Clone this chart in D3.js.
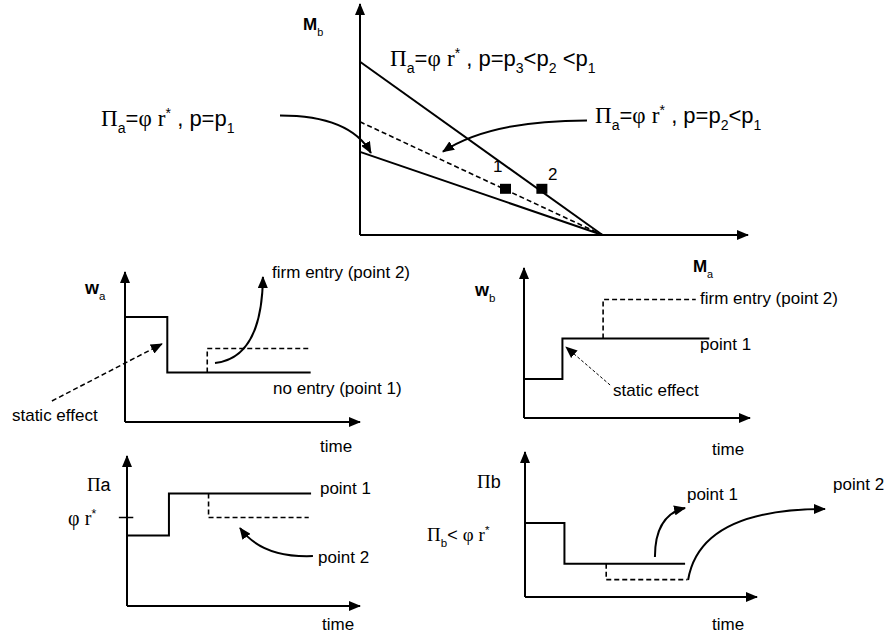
<!DOCTYPE html>
<html>
<head>
<meta charset="utf-8">
<script src="https://cdn.jsdelivr.net/npm/d3@7"></script>
<style>
  body { margin: 0; background: #fff; }
  text { white-space: pre; fill: #000; }
</style>
</head>
<body>
<svg id="fig" width="889" height="635"></svg>
<script>
// ---------- data ----------
// top panel: iso-profit lines for firm a in (Ma, Mb) space
var isoNames = ['p3', 'p2', 'p1'];
var isoMbIntercept = [7.5, 4.9, 3.6];
var isoMaIntercept = [10, 10, 10];
var isoDashed = [false, true, false];
var pointLabels = ['1', '2'];
var pointMa = [6.0, 7.5];
var pointMb = [2.0, 2.0];

// wage of a over time
var waSolidT = [0, 1.8, 1.8, 7.9];
var waSolidV = [7.0, 7.0, 3.3, 3.3];
var waDashT = [3.5, 3.5, 7.8];
var waDashV = [3.3, 4.9, 4.9];

// wage of b over time
var wbSolidT = [0, 1.7, 1.7, 8.2];
var wbSolidV = [2.6, 2.6, 5.3, 5.3];
var wbDashT = [3.5, 3.5, 7.6];
var wbDashV = [5.3, 7.9, 7.9];

// profit of a over time
var paSolidT = [0, 1.8, 1.8, 7.9];
var paSolidV = [4.7, 4.7, 7.5, 7.5];
var paDashT = [3.5, 3.5, 7.8];
var paDashV = [7.5, 5.9, 5.9];
var paTarget = 5.9;   // phi r*

// profit of b over time
var pbSolidT = [0, 1.7, 1.7, 6.9];
var pbSolidV = [5.1, 5.1, 2.3, 2.3];
var pbDashT = [3.5, 3.5, 7.0];
var pbDashV = [2.3, 1.2, 1.2];

// ---------- setup ----------
var SANS = 'Liberation Sans, Arial, sans-serif';
var SERIF = 'Liberation Serif, Times New Roman, serif';
var svg = d3.select('#fig');
svg.append('rect').attr('width', 889).attr('height', 635).attr('fill', '#fff');

var defs = svg.append('defs');
defs.append('marker')
  .attr('id', 'head')
  .attr('viewBox', '0 0 12 10')
  .attr('refX', 11).attr('refY', 5)
  .attr('markerUnits', 'userSpaceOnUse')
  .attr('markerWidth', 12).attr('markerHeight', 10)
  .attr('orient', 'auto')
  .append('path').attr('d', 'M0,0 L12,5 L0,10 Z').attr('fill', '#000');

// rich text: parts are [kind, string]; kind = sans | serif | sub | sup | bold
function rich(x, y, parts, size) {
  var t = svg.append('text').attr('x', x).attr('y', y)
    .attr('font-size', size).attr('font-family', SANS);
  var shift = 0;
  parts.forEach(function(p) {
    var kind = p[0];
    var target = kind === 'sub' ? size * 0.32 : kind === 'sup' ? -size * 0.38 : 0;
    var ts = t.append('tspan').text(p[1]).attr('dy', target - shift);
    shift = target;
    if (kind === 'serif') ts.attr('font-family', SERIF).attr('font-size', size * 1.05);
    if (kind === 'sub' || kind === 'sup') ts.attr('font-size', size * 0.64);
    if (kind === 'bold') ts.attr('font-weight', 'bold');
  });
  return t;
}

function axes(x, y) {
  var x0 = x.range()[0], y0 = y.range()[0];
  svg.append('line').attr('x1', x0).attr('y1', y0).attr('x2', x0).attr('y2', y.range()[1])
    .attr('stroke', '#000').attr('stroke-width', 2).attr('marker-end', 'url(#head)');
  svg.append('line').attr('x1', x0).attr('y1', y0).attr('x2', x.range()[1]).attr('y2', y0)
    .attr('stroke', '#000').attr('stroke-width', 2).attr('marker-end', 'url(#head)');
}

function path(x, y, ts, vs, dashed, width) {
  var line = d3.line().x(function(d) { return x(d[0]); }).y(function(d) { return y(d[1]); });
  svg.append('path').attr('d', line(d3.zip(ts, vs)))
    .attr('fill', 'none').attr('stroke', '#000')
    .attr('stroke-width', width || (dashed ? 1.6 : 2))
    .attr('stroke-dasharray', dashed ? '5,3' : null);
}

// curved arrow in data units: start, control, tip
function curve(x, y, s, c, e, opts) {
  opts = opts || {};
  var p = d3.path();
  p.moveTo(x(s[0]), y(s[1]));
  if (c) p.quadraticCurveTo(x(c[0]), y(c[1]), x(e[0]), y(e[1]));
  else p.lineTo(x(e[0]), y(e[1]));
  svg.append('path').attr('d', p.toString())
    .attr('fill', 'none').attr('stroke', '#000')
    .attr('stroke-width', opts.width || 2)
    .attr('stroke-dasharray', opts.dash || null)
    .attr('marker-end', 'url(#head)');
}

function piLabel(x, y, sub, size, tail) {
  var parts = [['serif', 'Π'], ['sub', sub]];
  return rich(x, y, parts.concat(tail || []), size);
}
var phiR = [['serif', 'φ'], ['sans', ' '], ['serif', 'r'], ['sup', '*']];

// ---------- top panel ----------
var tx = d3.scaleLinear().domain([0, 16]).range([360, 748]);
var ty = d3.scaleLinear().domain([0, 10]).range([235, 4]);
axes(tx, ty);
isoNames.forEach(function(n, i) {
  path(tx, ty, [0, isoMaIntercept[i]], [isoMbIntercept[i], 0], isoDashed[i], isoDashed[i] ? 1.6 : 2);
});
svg.selectAll('rect.pt').data(pointLabels).enter().append('rect')
  .attr('class', 'pt')
  .attr('x', function(d, i) { return tx(pointMa[i]) - 5.5; })
  .attr('y', function(d, i) { return ty(pointMb[i]) - 5; })
  .attr('width', 11).attr('height', 10).attr('fill', '#000');
rich(tx(5.48), ty(2.74), [['sans', pointLabels[0]]], 17);
rich(tx(7.75), ty(2.39), [['sans', pointLabels[1]]], 17);

rich(tx(-2.35), ty(8.87), [['bold', 'M'], ['sub', 'b']], 17);
rich(tx(13.73), ty(-1.61), [['bold', 'M'], ['sub', 'a']], 17);

piLabel(tx(1.24), ty(7.3), 'a', 22, [['sans', '=']].concat(phiR).concat([
  ['sans', ' , p=p'], ['sub', '3'], ['sans', '<p'], ['sub', '2'], ['sans', ' <p'], ['sub', '1']]));
piLabel(tx(9.69), ty(4.83), 'a', 22, [['sans', '=']].concat(phiR).concat([
  ['sans', ' , p=p'], ['sub', '2'], ['sans', '<p'], ['sub', '1']]));
piLabel(tx(-10.68), ty(4.7), 'a', 22, [['sans', '=']].concat(phiR).concat([
  ['sans', ' , p=p'], ['sub', '1']]));
curve(tx, ty, [-3.3, 5.17], [-0.41, 5.17], [0.45, 3.55]);
curve(tx, ty, [9.36, 4.96], [5.36, 4.96], [3.42, 3.61]);

// ---------- w_a panel ----------
var ax = d3.scaleLinear().domain([0, 10]).range([125, 360]);
var ay = d3.scaleLinear().domain([0, 10]).range([422, 272]);
axes(ax, ay);
path(ax, ay, waSolidT, waSolidV, false);
path(ax, ay, waDashT, waDashV, true);
rich(ax(-1.7), ay(8.53), [['bold', 'w'], ['sub', 'a']], 18);
rich(ax(6.26), ay(9.6), [['sans', 'firm entry (point 2)']], 17);
rich(ax(6.3), ay(1.87), [['sans', 'no entry (point 1)']], 17);
rich(ax(-4.81), ay(0.07), [['sans', 'static effect']], 17);
rich(ax(8.3), ay(-2.0), [['sans', 'time']], 17);
curve(ax, ay, [3.83, 3.93], [5.83, 4.27], [5.87, 9.67]);
curve(ax, ay, [-3.11, 1.4], null, [1.57, 5.2], { dash: '5,3', width: 1.5 });

// ---------- w_b panel ----------
var bx = d3.scaleLinear().domain([0, 10]).range([524, 750]);
var by = d3.scaleLinear().domain([0, 10]).range([418, 268]);
axes(bx, by);
path(bx, by, wbSolidT, wbSolidV, false);
path(bx, by, wbDashT, wbDashV, true);
rich(bx(-2.17), by(8.13), [['bold', 'w'], ['sub', 'b']], 18);
rich(bx(7.79), by(7.6), [['sans', 'firm entry (point 2)']], 17);
rich(bx(7.79), by(4.53), [['sans', 'point 1']], 17);
rich(bx(3.94), by(1.47), [['sans', 'static effect']], 17);
rich(bx(8.32), by(-2.47), [['sans', 'time']], 17);
curve(bx, by, [3.81, 2.2], null, [1.86, 4.73], { dash: '3,2', width: 1 });

// ---------- Pi_a panel ----------
var cx = d3.scaleLinear().domain([0, 10]).range([127, 360]);
var cy = d3.scaleLinear().domain([0, 10]).range([606, 456]);
axes(cx, cy);
path(cx, cy, paSolidT, paSolidV, false);
path(cx, cy, paDashT, paDashV, true);
svg.append('line').attr('x1', cx(-0.35)).attr('x2', cx(0.27))
  .attr('y1', cy(paTarget)).attr('y2', cy(paTarget))
  .attr('stroke', '#000').attr('stroke-width', 1.5);
rich(cx(-1.72), cy(7.67), [['serif', 'Π'], ['sans', 'a']], 18);
rich(cx(-2.53), cy(5.4), phiR, 19);
rich(cx(8.28), cy(7.47), [['sans', 'point 1']], 17);
rich(cx(8.2), cy(2.87), [['sans', 'point 2']], 17);
rich(cx(8.37), cy(-1.6), [['sans', 'time']], 17);
curve(cx, cy, [7.98, 3.33], [5.79, 3.2], [4.85, 5.2]);

// ---------- Pi_b panel ----------
var dx = d3.scaleLinear().domain([0, 10]).range([525, 757]);
var dy = d3.scaleLinear().domain([0, 10]).range([597, 452]);
axes(dx, dy);
path(dx, dy, pbSolidT, pbSolidV, false);
path(dx, dy, pbDashT, pbDashV, true);
rich(dx(-2.07), dy(7.52), [['serif', 'Π'], ['sans', 'b']], 18);
piLabel(dx(-4.22), dy(3.86), 'b', 18, [['sans', '< ']].concat(phiR));
rich(dx(6.98), dy(6.69), [['sans', 'point 1']], 17);
rich(dx(13.28), dy(7.38), [['sans', 'point 2']], 17);
rich(dx(8.06), dy(-2.28), [['sans', 'time']], 17);
curve(dx, dy, [5.6, 2.76], [5.6, 5.66], [6.9, 6.14]);
curve(dx, dy, [7.03, 1.17], [7.54, 6.07], [12.93, 6.07]);
</script>
</body>
</html>
